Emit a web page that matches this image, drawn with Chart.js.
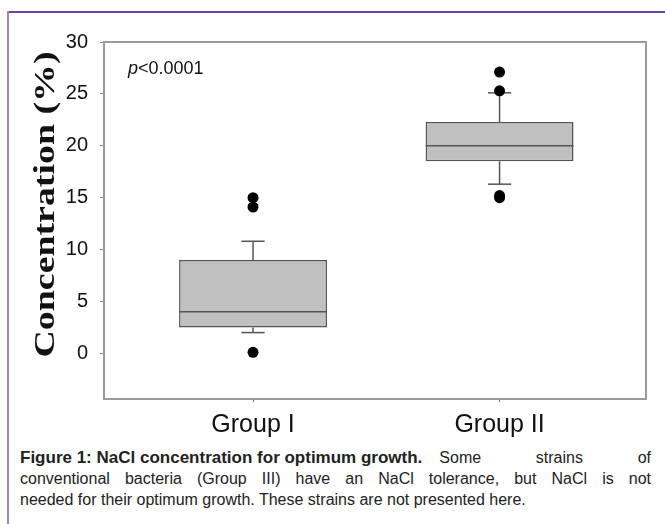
<!DOCTYPE html>
<html lang="en">
<head>
    <meta charset="UTF-8">
    <title>NaCl concentration for optimum growth</title>
    <script src="https://cdn.jsdelivr.net/npm/chart.js"></script>
    <style>
        body {
            margin: 0;
            width: 665px;
            height: 524px;
            position: relative;
            background: #fff;
            overflow: hidden;
            font-family: "Liberation Sans", Arial, sans-serif;
        }
        .frame-top {
            position: absolute; left: 8px; top: 11px; right: 0; height: 2px;
            background: #6b3fa3;
        }
        .frame-left {
            position: absolute; left: 7px; top: 11px; bottom: 0; width: 2px;
            background: #9c86d0;
        }
        canvas {
            position: absolute;
            left: 0;
            top: 0;
        }
        .caption {
            position: absolute;
            left: 20px;
            top: 447px;
            width: 631px;
            font-size: 16px;
            line-height: 21px;
            color: #222;
        }
        .caption .first { display: flex; white-space: nowrap; align-items: baseline; }
        .caption .first b { font-size: 17px; }
        .caption .first span { flex: 1; margin-left: 17px; text-align: justify; text-align-last: justify; }
        .caption .mid { text-align: justify; text-align-last: justify; white-space: nowrap; }
        .caption .last { white-space: nowrap; }
    </style>
</head>
<body>
    <div class="frame-top"></div>
    <div class="frame-left"></div>
    <canvas id="myChart" width="665" height="440"></canvas>
    <div class="caption">
        <div class="first"><b>Figure 1: NaCl concentration for optimum growth.</b><span>Some strains of</span></div>
        <div class="mid">conventional bacteria (Group III) have an NaCl tolerance, but NaCl is not</div>
        <div class="last">needed for their optimum growth. These strains are not presented here.</div>
    </div>
    <script>
        // box plot values
        const groups = ['Group I', 'Group II'];
        const groupX = [1, 2];
        const q1 = [2.5, 18.5];
        const median = [4.0, 20.0];
        const q3 = [9.0, 22.3];
        const whiskerLow = [2.0, 16.3];
        const whiskerHigh = [10.8, 25.1];
        const outliers = [[15.0, 14.1, 0.1], [27.1, 25.3, 15.2, 15.0]];
        const yTicks = [0, 5, 10, 15, 20, 25, 30];

        const boxHalf = 0.3;
        const capHalf = 0.047;
        const lineGray = '#555';

        function segment(x1, y1, x2, y2) {
            return {
                type: 'line',
                data: [{ x: x1, y: y1 }, { x: x2, y: y2 }],
                borderColor: lineGray,
                borderWidth: 1.5,
                pointRadius: 0,
                fill: false,
                order: 1
            };
        }

        const datasets = [{
            type: 'bar',
            data: groupX.map((x, i) => ({ x: x, y: [q1[i], q3[i]] })),
            backgroundColor: '#c0c0c0',
            borderColor: lineGray,
            borderWidth: 1.5,
            borderSkipped: false,
            categoryPercentage: 1,
            barPercentage: 2 * boxHalf,
            order: 3
        }];

        groupX.forEach((x, i) => {
            datasets.push(segment(x - boxHalf, median[i], x + boxHalf, median[i]));
            datasets.push(segment(x, q3[i], x, whiskerHigh[i]));
            datasets.push(segment(x - capHalf, whiskerHigh[i], x + capHalf, whiskerHigh[i]));
            datasets.push(segment(x, q1[i], x, whiskerLow[i]));
            datasets.push(segment(x - capHalf, whiskerLow[i], x + capHalf, whiskerLow[i]));
        });

        datasets.push({
            type: 'scatter',
            data: outliers.flatMap((list, i) => list.map(v => ({ x: groupX[i], y: v }))),
            backgroundColor: '#000',
            borderWidth: 0,
            pointRadius: 5.5,
            order: 0
        });

        // frame round the plot area, p-value and the y title
        const extras = {
            id: 'extras',
            beforeDatasetsDraw(chart) {
                const a = chart.chartArea;
                const c = chart.ctx;
                c.save();
                c.strokeStyle = '#9a9a9a';
                c.lineWidth = 2;
                c.strokeRect(a.left, a.top, a.right - a.left, a.bottom - a.top);
                c.restore();
            },
            afterDraw(chart) {
                const a = chart.chartArea;
                const c = chart.ctx;
                c.save();
                c.fillStyle = '#111';
                c.textBaseline = 'alphabetic';
                c.font = 'italic 18px "Liberation Sans", Arial, sans-serif';
                const px = a.left + 24, py = a.top + 32;
                c.fillText('p', px, py);
                const w = c.measureText('p').width;
                c.font = '18px "Liberation Sans", Arial, sans-serif';
                c.fillText('<0.0001', px + w, py);

                // the title in the figure is drawn stretched along its length
                c.translate(46, (a.top + a.bottom) / 2 - 16);
                c.rotate(-Math.PI / 2);
                c.font = 'bold 30px "Liberation Serif", "Times New Roman", serif';
                const tw = c.measureText('Concentration (%)').width;
                c.scale(306 / tw, 1);
                c.textAlign = 'center';
                c.textBaseline = 'middle';
                c.fillText('Concentration (%)', 0, 0);
                c.restore();
            }
        };

        const ctx = document.getElementById('myChart').getContext('2d');
        new Chart(ctx, {
            type: 'scatter',
            data: { datasets: datasets },
            plugins: [extras],
            options: {
                responsive: false,
                animation: false,
                layout: { padding: { top: 42, right: 19, left: 0, bottom: 0 } },
                plugins: { legend: { display: false }, tooltip: { enabled: false } },
                scales: {
                    x: {
                        type: 'linear',
                        min: 0.3955,
                        max: 2.594,
                        offset: false,
                        afterFit: s => { s.height = 41; },
                        afterBuildTicks: s => { s.ticks = groupX.map(v => ({ value: v })); },
                        ticks: {
                            callback: (v) => groups[groupX.indexOf(v)],
                            color: '#111',
                            padding: 8,
                            font: { size: 25, family: '"Liberation Sans", Arial, sans-serif' }
                        },
                        grid: { offset: false, drawOnChartArea: false, drawTicks: true, tickLength: 3, color: '#777' },
                        border: { display: false }
                    },
                    y: {
                        min: -4.4,
                        max: 30,
                        beginAtZero: false,
                        afterFit: s => { s.width = 104; },
                        afterBuildTicks: s => { s.ticks = yTicks.map(v => ({ value: v })); },
                        ticks: {
                            color: '#111',
                            padding: 12,
                            font: { size: 20, family: '"Liberation Sans", Arial, sans-serif' }
                        },
                        grid: { drawOnChartArea: false, drawTicks: true, tickLength: 4, color: '#888' },
                        border: { display: false }
                    }
                }
            }
        });
    </script>
</body>
</html>
